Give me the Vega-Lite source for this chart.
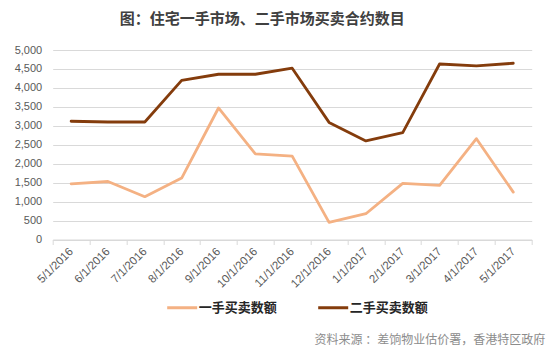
{
  "$schema": "https://vega.github.io/schema/vega-lite/v6.json",
  "width": 479,
  "height": 189.5,
  "autosize": "none",
  "padding": {"left": 52.7, "top": 50, "right": 18.3, "bottom": 111.5},
  "background": "white",
  "title": {
    "text": "图：住宅一手市场、二手市场买卖合约数目",
    "font": "Noto Sans CJK SC",
    "fontSize": 15,
    "fontWeight": "bold",
    "color": "#404040",
    "anchor": "middle",
    "frame": "group",
    "baseline": "bottom",
    "offset": 2,
    "dx": -30
  },
  "data": {
    "values": [
      {"date": "5/1/2016", "series": "一手买卖数额", "value": 1470},
      {"date": "6/1/2016", "series": "一手买卖数额", "value": 1530},
      {"date": "7/1/2016", "series": "一手买卖数额", "value": 1130},
      {"date": "8/1/2016", "series": "一手买卖数额", "value": 1620},
      {"date": "9/1/2016", "series": "一手买卖数额", "value": 3470},
      {"date": "10/1/2016", "series": "一手买卖数额", "value": 2260},
      {"date": "11/1/2016", "series": "一手买卖数额", "value": 2200},
      {"date": "12/1/2016", "series": "一手买卖数额", "value": 450},
      {"date": "1/1/2017", "series": "一手买卖数额", "value": 680},
      {"date": "2/1/2017", "series": "一手买卖数额", "value": 1480},
      {"date": "3/1/2017", "series": "一手买卖数额", "value": 1430},
      {"date": "4/1/2017", "series": "一手买卖数额", "value": 2660},
      {"date": "5/1/2017", "series": "一手买卖数额", "value": 1250},
      {"date": "5/1/2016", "series": "二手买卖数额", "value": 3120},
      {"date": "6/1/2016", "series": "二手买卖数额", "value": 3100},
      {"date": "7/1/2016", "series": "二手买卖数额", "value": 3100},
      {"date": "8/1/2016", "series": "二手买卖数额", "value": 4200},
      {"date": "9/1/2016", "series": "二手买卖数额", "value": 4360},
      {"date": "10/1/2016", "series": "二手买卖数额", "value": 4360},
      {"date": "11/1/2016", "series": "二手买卖数额", "value": 4520},
      {"date": "12/1/2016", "series": "二手买卖数额", "value": 3090},
      {"date": "1/1/2017", "series": "二手买卖数额", "value": 2600},
      {"date": "2/1/2017", "series": "二手买卖数额", "value": 2820},
      {"date": "3/1/2017", "series": "二手买卖数额", "value": 4630},
      {"date": "4/1/2017", "series": "二手买卖数额", "value": 4580},
      {"date": "5/1/2017", "series": "二手买卖数额", "value": 4650}
    ]
  },
  "mark": {"type": "line", "strokeWidth": 2.8, "strokeCap": "round", "strokeJoin": "round"},
  "encoding": {
    "x": {
      "field": "date",
      "type": "ordinal",
      "sort": null,
      "scale": {"type": "band", "paddingInner": 0, "paddingOuter": 0},
      "axis": {
        "title": "资料来源 ：差饷物业估价署，香港特区政府",
        "titleFont": "Noto Sans CJK SC",
        "titleFontSize": 12,
        "titleFontWeight": "normal",
        "titleColor": "#8c8c8c",
        "titleX": 492,
        "titleY": 99.5,
        "titleAlign": "right",
        "titleBaseline": "middle",
        "titleAnchor": null,
        "tickBand": "extent",
        "labelAngle": -45,
        "labelAlign": "right",
        "labelBaseline": "middle",
        "labelFont": "Liberation Sans",
        "labelFontSize": 11.5,
        "labelColor": "#595959",
        "labelPadding": 5,
        "tickSize": 5,
        "tickColor": "#d9d9d9",
        "domainColor": "#d9d9d9",
        "grid": false
      }
    },
    "y": {
      "field": "value",
      "type": "quantitative",
      "scale": {"domain": [0, 5000], "nice": false},
      "axis": {
        "title": null,
        "values": [0, 500, 1000, 1500, 2000, 2500, 3000, 3500, 4000, 4500, 5000],
        "format": ",.0f",
        "domain": false,
        "ticks": false,
        "labelPadding": 11,
        "labelFont": "Liberation Sans",
        "labelFontSize": 11,
        "labelColor": "#595959",
        "gridColor": "#d9d9d9",
        "gridWidth": 1
      }
    },
    "color": {
      "field": "series",
      "type": "nominal",
      "scale": {"domain": ["一手买卖数额", "二手买卖数额"], "range": ["#F4B183", "#843C0C"]},
      "legend": {
        "title": null,
        "orient": "none",
        "direction": "horizontal",
        "legendX": 113,
        "legendY": 241,
        "symbolType": "stroke",
        "symbolSize": 900,
        "symbolStrokeWidth": 3,
        "labelFont": "Noto Sans CJK SC",
        "labelFontSize": 13,
        "labelFontWeight": "bold",
        "labelColor": "#262626",
        "labelOffset": 0,
        "columnPadding": 34
      }
    }
  },
  "config": {"view": {"stroke": null}}
}
